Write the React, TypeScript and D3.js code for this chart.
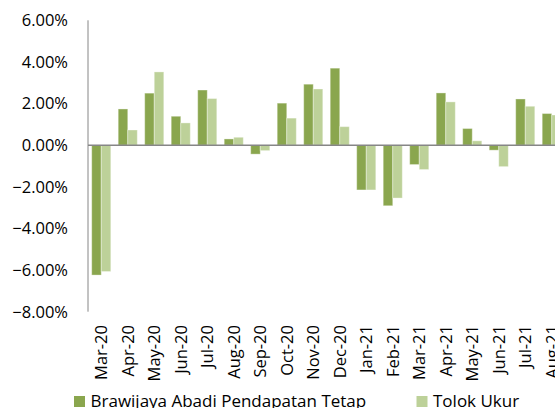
import React, { useEffect, useRef } from 'react';
import * as d3 from 'd3';

const months = [
  'Mar-20', 'Apr-20', 'May-20', 'Jun-20', 'Jul-20', 'Aug-20', 'Sep-20', 'Oct-20', 'Nov-20',
  'Dec-20', 'Jan-21', 'Feb-21', 'Mar-21', 'Apr-21', 'May-21', 'Jun-21', 'Jul-21', 'Aug-21',
];
const fundReturns = [
  -6.24, 1.74, 2.5, 1.39, 2.65, 0.3, -0.43, 2.02, 2.93,
  3.7, -2.15, -2.91, -0.93, 2.51, 0.8, -0.24, 2.22, 1.52,
];
const benchmarkReturns = [
  -6.07, 0.73, 3.52, 1.07, 2.24, 0.38, -0.26, 1.3, 2.7,
  0.89, -2.15, -2.54, -1.17, 2.08, 0.21, -1.03, 1.87, 1.45,
];
const seriesNames = ['Brawijaya Abadi Pendapatan Tetap', 'Tolok Ukur'];
const seriesColors = ['#8AA64E', '#BDD199'];
const yTicks = [6, 4, 2, 0, -2, -4, -6, -8];

const App = () => {
  const svgRef = useRef<SVGSVGElement>(null);
  const width = 555;
  const height = 408;
  const font = '"Open Sans", sans-serif';

  useEffect(() => {
    const svg = d3.select(svgRef.current);
    svg.selectAll('*').remove();

    const left = 88;
    const step = 26.5;

    const x = d3.scaleBand()
      .domain(months)
      .range([left, left + months.length * step])
      .paddingInner(0.28)
      .paddingOuter(0.14);

    const xs = d3.scaleBand()
      .domain(['0', '1'])
      .range([0, x.bandwidth()]);

    const y = d3.scaleLinear().domain([-8, 6]).range([311.7, 20.3]);

    // y axis labels
    svg.append('g')
      .selectAll('text')
      .data(yTicks)
      .join('text')
      .attr('x', 68)
      .attr('y', d => y(d))
      .attr('dy', '0.36em')
      .attr('text-anchor', 'end')
      .attr('font-family', font)
      .attr('font-size', 16.5)
      .attr('fill', '#000')
      .text(d => d3.format('.2f')(d) + '%');

    // bars
    const rows = months.map((m, i) => ({ m, vals: [fundReturns[i], benchmarkReturns[i]] }));
    svg.append('g')
      .selectAll('g')
      .data(rows)
      .join('g')
      .attr('transform', d => `translate(${x(d.m)},0)`)
      .selectAll('rect')
      .data(d => d.vals.map((v, k) => ({ v, k })))
      .join('rect')
      .attr('x', d => xs(String(d.k))!)
      .attr('width', xs.bandwidth())
      .attr('y', d => y(Math.max(0, d.v)))
      .attr('height', d => Math.abs(y(d.v) - y(0)))
      .attr('fill', d => seriesColors[d.k])
      .attr('stroke', 'rgba(255,255,255,0.35)')
      .attr('stroke-width', 1);

    // axes lines
    svg.append('line')
      .attr('x1', left).attr('x2', left)
      .attr('y1', y(6)).attr('y2', y(-8))
      .attr('stroke', '#868686').attr('stroke-width', 1);
    svg.append('line')
      .attr('x1', left).attr('x2', width)
      .attr('y1', y(0)).attr('y2', y(0))
      .attr('stroke', '#868686').attr('stroke-width', 1.5);

    // x labels
    svg.append('g')
      .selectAll('text')
      .data(months)
      .join('text')
      .attr('transform', d => `translate(${x(d)! + x.bandwidth() / 2},325) rotate(-90)`)
      .attr('dy', '0.36em')
      .attr('text-anchor', 'end')
      .attr('font-family', font)
      .attr('font-size', 16.5)
      .attr('fill', '#000')
      .text(d => d);

    // legend
    const legendX = [74, 416.5];
    const legend = svg.append('g')
      .selectAll('g')
      .data(seriesNames)
      .join('g')
      .attr('transform', (d, i) => `translate(${legendX[i]},0)`);
    legend.append('rect')
      .attr('x', 0).attr('y', 396)
      .attr('width', 11).attr('height', 11)
      .attr('fill', (d, i) => seriesColors[i]);
    legend.append('text')
      .attr('x', 16.5).attr('y', 407)
      .attr('font-family', font)
      .attr('font-size', 17)
      .attr('fill', '#000')
      .text(d => d);
  }, []);

  return (
    <svg
      ref={svgRef}
      width={width}
      height={height}
      style={{ position: 'absolute', left: 0, top: 0, background: '#fff' }}
    />
  );
};

export default App;
